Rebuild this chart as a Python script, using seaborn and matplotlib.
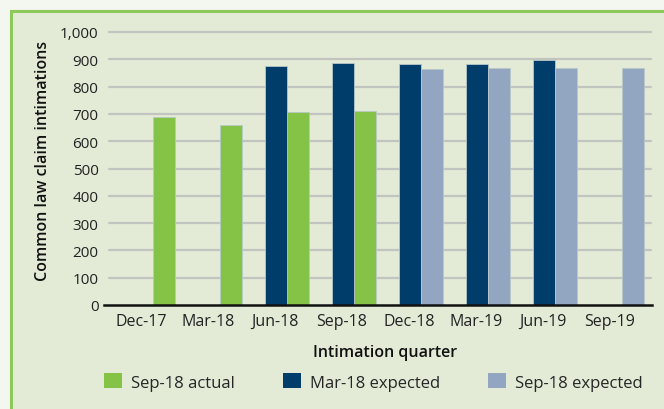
import matplotlib
matplotlib.use("Agg")
import matplotlib.pyplot as plt
import matplotlib.transforms as mtransforms
from matplotlib.patches import Rectangle, Patch
import seaborn as sns
import pandas as pd

# Data
quarters = ["Dec-17", "Mar-18", "Jun-18", "Sep-18", "Dec-18", "Mar-19", "Jun-19", "Sep-19"]
sep18_actual = [688, 658, 707, 711, None, None, None, None]
mar18_expected = [None, None, 876, 885, 883, 884, 896, None]
sep18_expected = [None, None, None, None, 866, 867, 869, 869]

GREEN = "#84c346"
NAVY = "#003d6b"
LIGHT = "#92a6c2"
PANEL = "#e3ebd7"
OUTSIDE = "#f4f6f0"
BORDER = "#8cc85a"

series = [
    ("Sep-18 actual", sep18_actual, GREEN, "right"),
    ("Mar-18 expected", mar18_expected, NAVY, "left"),
    ("Sep-18 expected", sep18_expected, LIGHT, "right"),
]

sns.set_style("white")
plt.rcParams["font.family"] = ["Open Sans", "DejaVu Sans"]

fig = plt.figure(figsize=(6.64, 4.10), dpi=100, facecolor=OUTSIDE)
fig.patches.append(Rectangle((11 / 664, -0.05), 1.0, 1 - 12 / 410 + 0.05,
                             transform=fig.transFigure, facecolor=PANEL,
                             edgecolor=BORDER, linewidth=2.2, zorder=-10))
ax = fig.add_axes([104 / 664, 1 - 306 / 410, (652 - 104) / 664, (306 - 33) / 410])
ax.set_facecolor("none")
ax.set_zorder(2)

for name, vals, color, slot in series:
    df = pd.DataFrame({"quarter": quarters, "value": vals, "slot": slot}).dropna()
    sns.barplot(data=df, x="quarter", y="value", hue="slot", order=quarters,
                hue_order=["left", "right"], palette={"left": color, "right": color},
                dodge=True, width=0.666, saturation=1, legend=False, ax=ax,
                edgecolor="#b9c7c9", linewidth=0.6, zorder=3)

ax.set_xlim(-0.73, 7.45)
ax.set_ylim(0, 1000)
ax.set_yticks(range(0, 1001, 100))
ax.set_yticklabels([f"{v:,}" for v in range(0, 1001, 100)], fontsize=11, color="#222222")
ax.tick_params(axis="y", length=0, pad=4)
ax.tick_params(axis="x", length=0, pad=6)
for lab in ax.get_xticklabels():
    lab.set_fontsize(11.5)
    lab.set_color("#222222")
    lab.set_transform(lab.get_transform() + mtransforms.ScaledTranslation(-0.12, 0, fig.dpi_scale_trans))

for v in range(100, 1001, 100):
    ax.axhline(v, xmin=5 / 548, xmax=547 / 548, color="#c2c4c0", linewidth=1.6, zorder=1, clip_on=False)

for s in ["top", "right", "left"]:
    ax.spines[s].set_visible(False)
ax.spines["bottom"].set_color("#111111")
ax.spines["bottom"].set_linewidth(1.8)
ax.spines["bottom"].set_zorder(5)

ax.set_xlabel("Intimation quarter", fontsize=11.5, fontweight="semibold", color="#111111")
ax.set_ylabel("Common law claim intimations", fontsize=11.5, fontweight="semibold", color="#111111")
ax.xaxis.set_label_coords((385 - 104) / 548, -(345 - 306) / 273)
ax.yaxis.set_label_coords(-(104 - 51) / 548, (306 - 161) / 273)

handles = [Patch(facecolor=c, edgecolor="none", label=n) for n, _, c, _ in series]
fig.legend(handles=handles, loc="center left", bbox_to_anchor=(104 / 664, 1 - 383 / 410),
           ncol=3, frameon=False, fontsize=12, handlelength=1.1, handleheight=1.0,
           handletextpad=0.5, columnspacing=2.9, borderpad=0, borderaxespad=0)

fig.savefig("out.png", dpi=100, facecolor=OUTSIDE)
